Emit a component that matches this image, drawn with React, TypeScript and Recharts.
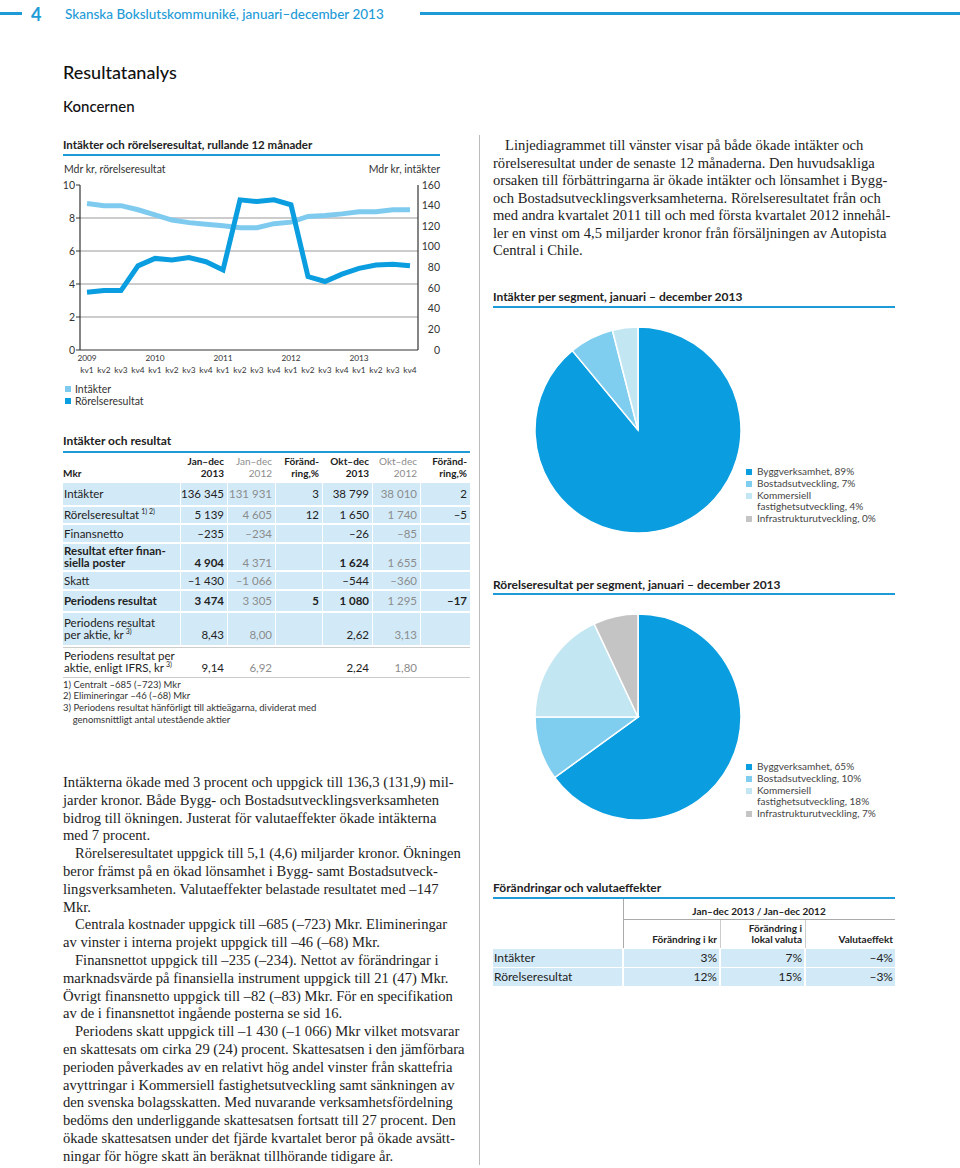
import React from 'react';
import { LineChart, Line, XAxis, YAxis, ReferenceLine, PieChart, Pie, Cell } from 'recharts';

// line chart: rolling 12 months, per quarter
const yearLabels = ['2009', '2010', '2011', '2012', '2013'];
const quarterLabels = ['kv1', 'kv2', 'kv3', 'kv4'];
const intakter = [142, 140, 140, 136, 131, 126, 123.5, 122, 120.5, 118.5, 118.5, 122.5, 124, 129.5, 130.5, 132, 134, 134, 136, 136];
const rorelseresultat = [3.5, 3.6, 3.6, 5.1, 5.55, 5.45, 5.6, 5.35, 4.85, 9.1, 9.0, 9.1, 8.8, 4.45, 4.15, 4.6, 4.95, 5.15, 5.2, 5.1];
const leftTicks = [0, 2, 4, 6, 8, 10];
const rightTicks = [0, 20, 40, 60, 80, 100, 120, 140, 160];
const gridValues = [2, 4, 6, 8];

// pies
const segmentNames = ['Byggverksamhet', 'Bostadsutveckling', 'Kommersiell\nfastighetsutveckling', 'Infrastrukturutveckling'];
const intakterShare = [89, 7, 4, 0];
const rorelseShare = [65, 10, 18, 7];
const segmentColors = ['#0a9ddf', '#7fcdef', '#c3e6f3', '#c4c4c4'];

// table: Intäkter och resultat
const colHeaders = ['Jan–dec\n2013', 'Jan–dec\n2012', 'Föränd-\nring,%', 'Okt–dec\n2013', 'Okt–dec\n2012', 'Föränd-\nring,%'];
const rowLabels = ['Intäkter', 'Rörelseresultat', 'Finansnetto', 'Resultat efter finan-\nsiella poster', 'Skatt', 'Periodens resultat', 'Periodens resultat\nper aktie, kr', 'Periodens resultat per\naktie, enligt IFRS, kr'];
const rowNotes = ['', '1) 2)', '', '', '', '', '3)', '3)'];
const janDec2013 = ['136 345', '5 139', '–235', '4 904', '–1 430', '3 474', '8,43', '9,14'];
const janDec2012 = ['131 931', '4 605', '–234', '4 371', '–1 066', '3 305', '8,00', '6,92'];
const changeYear = ['3', '12', '', '', '', '5', '', ''];
const oktDec2013 = ['38 799', '1 650', '–26', '1 624', '–544', '1 080', '2,62', '2,24'];
const oktDec2012 = ['38 010', '1 740', '–85', '1 655', '–360', '1 295', '3,13', '1,80'];
const changeQuarter = ['2', '–5', '', '', '', '–17', '', ''];
const footnotes = ['1) Centralt –685 (–723) Mkr', '2) Elimineringar –46 (–68) Mkr', '3) Periodens resultat hänförligt till aktieägarna, dividerat med', '    genomsnittligt antal utestående aktier'];

// table: Förändringar och valutaeffekter
const fxRows = ['Intäkter', 'Rörelseresultat'];
const fxHeaders = ['Förändring i kr', 'Förändring i\nlokal valuta', 'Valutaeffekt'];
const fxChangeSek = ['3%', '12%'];
const fxChangeLocal = ['7%', '15%'];
const fxEffect = ['–4%', '–3%'];

const rightText = [[
  'Linjediagrammet till vänster visar på både ökade intäkter och',
  'rörelseresultat under de senaste 12 månaderna. Den huvudsakliga',
  'orsaken till förbättringarna är ökade intäkter och lönsamhet i Bygg-',
  'och Bostadsutvecklingsverksamheterna. Rörelseresultatet från och',
  'med andra kvartalet 2011 till och med första kvartalet 2012 innehål-',
  'ler en vinst om 4,5 miljarder kronor från försäljningen av Autopista',
  'Central i Chile.',
]];

const bottomText = [
  ['Intäkterna ökade med 3 procent och uppgick till 136,3 (131,9) mil-',
    'jarder kronor. Både Bygg- och Bostadsutvecklingsverksamheten',
    'bidrog till ökningen. Justerat för valutaeffekter ökade intäkterna',
    'med 7 procent.'],
  ['Rörelseresultatet uppgick till 5,1 (4,6) miljarder kronor. Ökningen',
    'beror främst på en ökad lönsamhet i Bygg- samt Bostadsutveck-',
    'lingsverksamheten. Valutaeffekter belastade resultatet med –147',
    'Mkr.'],
  ['Centrala kostnader uppgick till –685 (–723) Mkr. Elimineringar',
    'av vinster i interna projekt uppgick till –46 (–68) Mkr.'],
  ['Finansnettot uppgick till –235 (–234). Nettot av förändringar i',
    'marknadsvärde på finansiella instrument uppgick till 21 (47) Mkr.',
    'Övrigt finansnetto uppgick till –82 (–83) Mkr. För en specifikation',
    'av de i finansnettot ingående posterna se sid 16.'],
  ['Periodens skatt uppgick till –1 430 (–1 066) Mkr vilket motsvarar',
    'en skattesats om cirka 29 (24) procent. Skattesatsen i den jämförbara',
    'perioden påverkades av en relativt hög andel vinster från skattefria',
    'avyttringar i Kommersiell fastighetsutveckling samt sänkningen av',
    'den svenska bolagsskatten. Med nuvarande verksamhetsfördelning',
    'bedöms den underliggande skattesatsen fortsatt till 27 procent. Den',
    'ökade skattesatsen under det fjärde kvartalet beror på ökade avsätt-',
    'ningar för högre skatt än beräknat tillhörande tidigare år.'],
];

const SANS = 'Lato, "Noto Sans", sans-serif';
const SERIF = '"Liberation Serif", "DejaVu Serif", serif';
const BLUE = '#1e9bd7';
const ROW_BG = '#d2eaf8';
const MUTED = '#8c8c8c';

const lineData = yearLabels.flatMap((y, yi) =>
  quarterLabels.map((q, qi) => ({
    cat: `${y} ${q}`,
    intakter: intakter[yi * 4 + qi],
    rorelse: rorelseresultat[yi * 4 + qi],
  }))
);

function Txt({ x, r, cy, size = 11, color = '#222', weight = 400, family = SANS, lh, children }: any) {
  const L = lh ?? Math.round(size * 1.2);
  return (
    <div
      style={{
        position: 'absolute',
        left: r !== undefined ? undefined : x,
        right: r !== undefined ? 960 - r : undefined,
        top: cy - L / 2,
        fontSize: size,
        lineHeight: `${L}px`,
        color,
        fontWeight: weight,
        fontFamily: family,
        whiteSpace: 'pre',
        textAlign: r !== undefined ? 'right' : 'left',
      }}
    >
      {children}
    </div>
  );
}

function Rule({ x, y, w, h = 2, color = BLUE }: any) {
  return <div style={{ position: 'absolute', left: x, top: y, width: w, height: h, background: color }} />;
}

// body copy, ragged right, one div per printed line
function Copy({ paras, x, y, lh, indentFirst }: any) {
  const out: any[] = [];
  let i = 0;
  paras.forEach((p: string[], pi: number) =>
    p.forEach((line, li) => {
      const indent = li === 0 && (pi > 0 || indentFirst) ? 12 : 0;
      out.push(
        <div
          key={i}
          style={{
            position: 'absolute',
            left: x + indent,
            top: y + i * lh,
            fontFamily: SERIF,
            fontSize: 14.6,
            lineHeight: `${lh}px`,
            color: '#222',
            whiteSpace: 'pre',
          }}
        >
          {line}
        </div>
      );
      i++;
    })
  );
  return <>{out}</>;
}

const LeftTick = (p: any) => (
  <text x={75} y={p.y + 3.5} textAnchor="end" fontSize={10.5} fill="#333" fontFamily={SANS}>
    {p.payload.value}
  </text>
);
const RightTick = (p: any) => (
  <text x={440} y={p.y + 3.5} textAnchor="end" fontSize={10.5} fill="#333" fontFamily={SANS}>
    {p.payload.value}
  </text>
);
const XTick = (p: any) => {
  const [yr, q] = String(p.payload.value).split(' ');
  return (
    <g fontFamily={SANS} fontSize={8.3} fill="#333">
      {q === quarterLabels[0] && (
        <text x={p.x} y={361} textAnchor="middle">
          {yr}
        </text>
      )}
      <text x={p.x} y={373} textAnchor="middle">
        {q}
      </text>
    </g>
  );
};

function SegmentPie({ top, values }: any) {
  const data = segmentNames.map((n, i) => ({ name: n, value: values[i] }));
  return (
    <div style={{ position: 'absolute', left: 523, top }}>
      <PieChart width={220} height={220}>
        <Pie data={data} dataKey="value" cx={110} cy={110} outerRadius={103} startAngle={90} endAngle={-270} stroke="#fff" strokeWidth={1.5} isAnimationActive={false}>
          {data.map((d, i) => (
            <Cell key={d.name} fill={segmentColors[i]} />
          ))}
        </Pie>
      </PieChart>
    </div>
  );
}

function SegmentLegend({ top, values }: any) {
  let line = 0;
  return (
    <>
      {segmentNames.map((n, i) => {
        const cy = top + line * 11.8;
        line += n.split('\n').length;
        return (
          <React.Fragment key={n}>
            <div style={{ position: 'absolute', left: 746, top: cy - 3, width: 6, height: 6, background: segmentColors[i] }} />
            <Txt x={757} cy={cy} size={10} color="#444" lh={11.8}>{`${n}, ${values[i]}%`}</Txt>
          </React.Fragment>
        );
      })}
    </>
  );
}

// table 1 layout
const cellEdges = [[63, 180], [181, 227], [228, 275], [276, 322], [323, 372], [373, 420], [421, 470]];
const rowTop = [483, 507, 525, 544, 572, 591, 613, 648];
const rowH = [22, 16, 17, 26, 17, 20, 32, 28];
const boldRow = [false, false, false, true, false, true, false, false];
const mutedCol = [false, true, false, false, true, false];

function IncomeTable() {
  const cols = [janDec2013, janDec2012, changeYear, oktDec2013, oktDec2012, changeQuarter];
  return (
    <>
      <Txt x={63} cy={441} size={12} weight={700}>Intäkter och resultat</Txt>
      <Rule x={63} y={451} w={407} />
      <Txt x={63} cy={473} size={10} weight={700}>Mkr</Txt>
      {colHeaders.map((h, c) => (
        <Txt key={c} r={cellEdges[c + 1][1] - 3} cy={461} size={10} lh={12} weight={mutedCol[c] ? 400 : 700} color={mutedCol[c] ? MUTED : '#222'}>
          {h}
        </Txt>
      ))}
      {rowLabels.map((label, r) => {
        const bg = r < 7 ? ROW_BG : '#fff';
        const lines = label.split('\n');
        const n = lines.length;
        const lastCy = rowTop[r] + rowH[r] / 2 + ((n - 1) * 12) / 2;
        const firstCy = rowTop[r] + rowH[r] / 2 - ((n - 1) * 12) / 2;
        return (
          <React.Fragment key={r}>
            {cellEdges.map(([a, b], ci) => (
              <div key={ci} style={{ position: 'absolute', left: a, top: rowTop[r], width: b - a, height: rowH[r], background: bg }} />
            ))}
            {lines.map((ln, li) => (
              <Txt key={li} x={64} cy={firstCy + li * 12} size={11.5} lh={12} weight={boldRow[r] ? 700 : 400}>
                {ln}
                {li === n - 1 && rowNotes[r] ? <sup style={{ fontSize: 7, lineHeight: 0, marginLeft: 2 }}>{rowNotes[r]}</sup> : null}
              </Txt>
            ))}
            {cols.map((col, c) => (
              <Txt key={c} r={cellEdges[c + 1][1] - 3} cy={lastCy} size={11.5} lh={12} color={mutedCol[c] ? MUTED : '#222'} weight={boldRow[r] && !mutedCol[c] ? 700 : 400}>
                {col[r]}
              </Txt>
            ))}
          </React.Fragment>
        );
      })}
      <Rule x={63} y={647} w={407} h={1} color="#ccc" />
      <Rule x={63} y={677} w={407} h={1} color="#ccc" />
      {footnotes.map((f, i) => (
        <Txt key={i} x={63} cy={684 + i * 11.7} size={9.5} color="#333">{f}</Txt>
      ))}
    </>
  );
}

const fxEdges = [[493, 622], [624, 719], [721, 804], [806, 895]];
function FxTable() {
  const cols = [fxChangeSek, fxChangeLocal, fxEffect];
  return (
    <>
      <Txt x={493} cy={888} size={12} weight={700}>Förändringar och valutaeffekter</Txt>
      <Rule x={493} y={897} w={402} />
      <Txt x={623} cy={911} size={10} weight={700}>
        <span style={{ display: 'inline-block', width: 272, textAlign: 'center' }}>Jan–dec 2013 / Jan–dec 2012</span>
      </Txt>
      <Rule x={623} y={919} w={272} h={1} color="#aaa" />
      <Rule x={623} y={899} w={1} h={49} color="#aaa" />
      <Rule x={720} y={920} w={1} h={28} color="#ccc" />
      <Rule x={805} y={920} w={1} h={28} color="#ccc" />
      {fxHeaders.map((h, c) => (
        <Txt key={c} r={fxEdges[c + 1][1] - 2} cy={h.includes('\n') ? 928 : 939} size={10} lh={11} weight={700}>
          {h}
        </Txt>
      ))}
      {fxRows.map((label, r) => (
        <React.Fragment key={r}>
          {fxEdges.map(([a, b], ci) => (
            <div key={ci} style={{ position: 'absolute', left: a, top: 949 + r * 19, width: b - a, height: 18, background: ROW_BG }} />
          ))}
          <Txt x={494} cy={958 + r * 19} size={12}>{label}</Txt>
          {cols.map((col, c) => (
            <Txt key={c} r={fxEdges[c + 1][1] - 2} cy={958 + r * 19} size={12}>{col[r]}</Txt>
          ))}
        </React.Fragment>
      ))}
    </>
  );
}

export default function App() {
  return (
    <div style={{ position: 'absolute', left: 0, top: 0, width: 960, height: 1168, background: '#fff', overflow: 'hidden', fontFamily: SANS }}>
      {/* header */}
      <Rule x={0} y={12} w={22} h={3} />
      <Txt x={31} cy={14} size={18} weight={700} color={BLUE}>4</Txt>
      <Txt x={65} cy={14} size={13.5} weight={500} color={BLUE}>Skanska Bokslutskommuniké, januari–december 2013</Txt>
      <Rule x={420} y={12} w={540} h={3} />
      <Txt x={63} cy={72} size={18} weight={500} color="#111">Resultatanalys</Txt>
      <Txt x={63} cy={106} size={15} weight={500} color="#111">Koncernen</Txt>

      <Rule x={479} y={135} w={1} h={1030} color="#bbb" />

      {/* line chart */}
      <Txt x={63} cy={145} size={11.5} weight={700}>Intäkter och rörelseresultat, rullande 12 månader</Txt>
      <Rule x={63} y={154} w={377} />
      <Txt x={64} cy={169} size={10.5} color="#333">Mdr kr, rörelseresultat</Txt>
      <Txt r={440} cy={169} size={10.5} color="#333">Mdr kr, intäkter</Txt>
      <div style={{ position: 'absolute', left: 0, top: 0 }}>
        <LineChart width={470} height={390} data={lineData} margin={{ top: 185, right: 32, bottom: 10, left: 60 }}>
          <XAxis dataKey="cat" height={30} interval={0} tick={<XTick />} tickLine={false} axisLine={{ stroke: '#333', strokeWidth: 1.2 }} padding={{ left: 7, right: 8 }} />
          <YAxis yAxisId="left" width={20} domain={[0, 10]} ticks={leftTicks} interval={0} tick={<LeftTick />} tickSize={4} tickLine={{ stroke: '#333' }} axisLine={{ stroke: '#333', strokeWidth: 1.2 }} />
          <YAxis yAxisId="right" orientation="right" width={20} domain={[0, 160]} ticks={rightTicks} interval={0} tick={<RightTick />} tickLine={false} axisLine={{ stroke: '#333', strokeWidth: 1.2 }} />
          {gridValues.map((v) => (
            <ReferenceLine key={v} yAxisId="left" y={v} stroke="#999" strokeWidth={1} />
          ))}
          <Line yAxisId="right" type="linear" dataKey="intakter" stroke="#7fcbef" strokeWidth={5} dot={false} activeDot={false} isAnimationActive={false} />
          <Line yAxisId="left" type="linear" dataKey="rorelse" stroke="#0a9ddf" strokeWidth={5} dot={false} activeDot={false} isAnimationActive={false} />
        </LineChart>
      </div>
      <div style={{ position: 'absolute', left: 65, top: 386, width: 6, height: 6, background: '#7fcbef' }} />
      <Txt x={75} cy={389} size={10.5} color="#333">Intäkter</Txt>
      <div style={{ position: 'absolute', left: 65, top: 398, width: 6, height: 6, background: '#0a9ddf' }} />
      <Txt x={75} cy={401} size={10.5} color="#333">Rörelseresultat</Txt>

      <IncomeTable />

      {/* right column */}
      <Copy paras={rightText} x={493} y={137} lh={17.5} indentFirst />
      <Txt x={493} cy={297} size={12} weight={700}>Intäkter per segment, januari – december 2013</Txt>
      <Rule x={493} y={306} w={402} />
      <SegmentPie top={315} values={intakterShare} />
      <SegmentLegend top={472} values={intakterShare} />

      <Txt x={493} cy={585} size={12} weight={700}>Rörelseresultat per segment, januari – december 2013</Txt>
      <Rule x={493} y={593} w={402} />
      <SegmentPie top={602} values={rorelseShare} />
      <SegmentLegend top={767} values={rorelseShare} />

      <FxTable />

      <Copy paras={bottomText} x={63} y={774} lh={17.8} />
    </div>
  );
}
